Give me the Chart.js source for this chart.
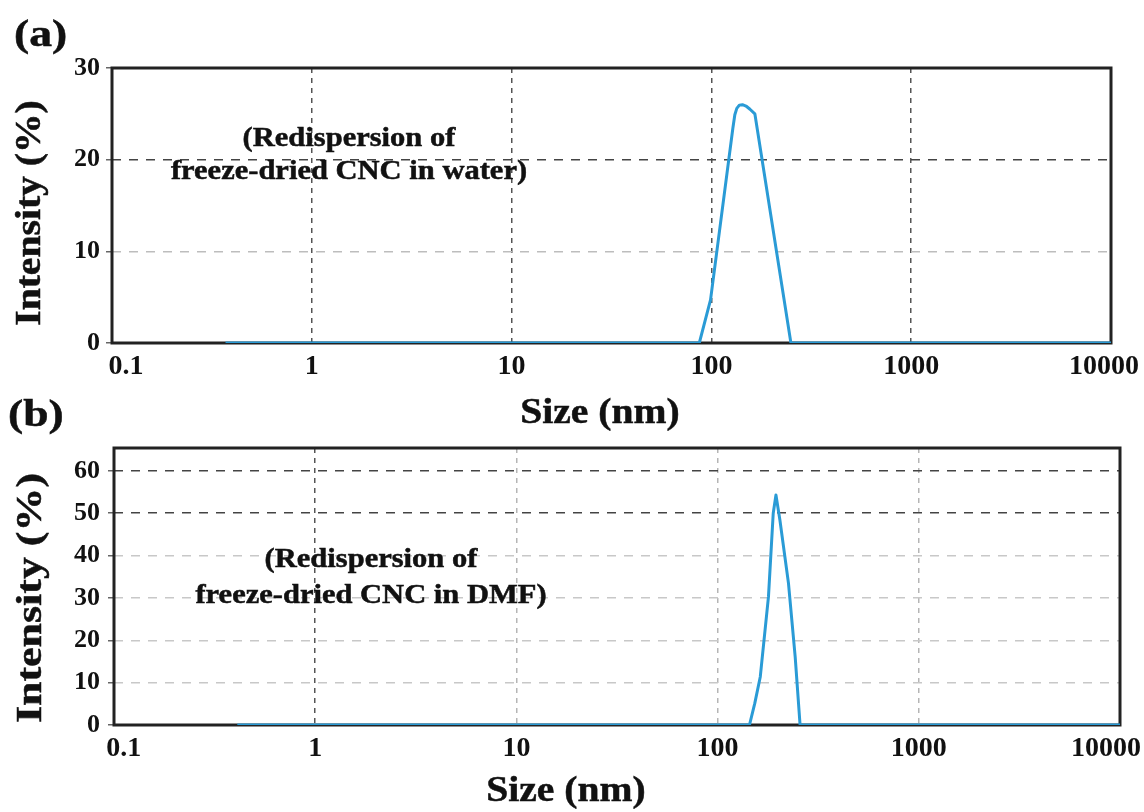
<!DOCTYPE html>
<html>
<head>
<meta charset="utf-8">
<script src="https://cdn.jsdelivr.net/npm/chart.js@4.4.1/dist/chart.umd.min.js"></script>
<style>
html,body{margin:0;padding:0;background:#fff;width:1144px;height:812px;overflow:hidden;}
.wrap{position:absolute;left:0;width:1144px;}
.txt{position:absolute;font-family:'Liberation Serif','Times New Roman',serif;font-weight:bold;color:#111;text-align:center;white-space:nowrap;-webkit-text-stroke:0.5px #111;}
</style>
</head>
<body>
<div class="wrap" style="top:0;height:430px"><canvas id="ca"></canvas></div>
<div class="wrap" style="top:430px;height:382px"><canvas id="cb"></canvas></div>

<div class="txt" style="left:14px;top:14px;font-size:38px;line-height:38px;text-align:left;transform:scaleX(1.2);transform-origin:left center">(a)</div>
<div class="txt" style="left:8px;top:394px;font-size:38px;line-height:38px;text-align:left;transform:scaleX(1.2);transform-origin:left center">(b)</div>

<div class="txt" style="left:149px;width:400px;top:120px;font-size:28px;line-height:33px;transform:scaleX(1.09)">(Redispersion of<br>freeze-dried CNC in water)</div>
<div class="txt" style="left:171px;width:400px;top:540px;font-size:28px;line-height:36px;transform:scaleX(1.09)">(Redispersion of<br>freeze-dried CNC in DMF)</div>

<div class="txt" style="left:450px;width:300px;top:392px;height:38px;font-size:36px;line-height:38px;transform:scaleX(1.1)">Size (nm)</div>
<div class="txt" style="left:416px;width:300px;top:770px;height:38px;font-size:36px;line-height:38px;transform:scaleX(1.1)">Size (nm)</div>

<div class="txt" style="left:-122px;width:300px;top:194px;height:38px;font-size:36px;line-height:38px;transform:rotate(-90deg) scaleX(1.1)">Intensity (%)</div>
<div class="txt" style="left:-121px;width:300px;top:579px;height:38px;font-size:36px;line-height:38px;transform:rotate(-90deg) scaleX(1.22)">Intensity (%)</div>

<script>
// ---- data ----
const xTickValues = [0.1, 1, 10, 100, 1000, 10000];
const xTickLabels = ['0.1', '1', '10', '100', '1000', '10000'];
const yTicksA = [0, 10, 20, 30];
const yTicksB = [0, 10, 20, 30, 40, 50, 60];

// (a) freeze-dried CNC redispersed in water
const sizeA = [0.37, 87, 99, 128, 131, 134, 138, 143, 149, 156, 165, 250, 10000];
const intensityA = [0, 0, 4.7, 23.4, 24.9, 25.6, 25.95, 26.0, 25.85, 25.5, 25.0, 0, 0];

// (b) freeze-dried CNC redispersed in DMF
const sizeB = [0.41, 144, 153, 163, 179, 189, 195, 204, 225, 243, 257, 10000];
const intensityB = [0, 0, 5.1, 11.4, 30.3, 50.0, 54.3, 48.4, 33.5, 16.1, 0, 0];

// ---- styling ----
Chart.defaults.font.family = "'Liberation Serif', 'Times New Roman', serif";
const BLUE = '#2a9bd6';
const NONE = 'rgba(0,0,0,0)';

const frame = {
  id: 'frame',
  beforeDatasetsDraw(chart) {
    const {ctx, chartArea: a} = chart;
    ctx.save();
    ctx.strokeStyle = '#222';
    ctx.lineWidth = 3;
    ctx.setLineDash([]);
    ctx.strokeRect(a.left, a.top, a.right - a.left, a.bottom - a.top);
    ctx.restore();
  }
};

function makeChart(id, xs, ys, yMax, yTicks, cfg) {
  return new Chart(document.getElementById(id), {
    type: 'line',
    data: {
      datasets: [{
        data: xs.map((x, i) => ({x: x, y: ys[i]})),
        borderColor: BLUE,
        borderWidth: 3,
        pointRadius: 0,
        fill: false,
        tension: 0,
        borderJoinStyle: 'round'
      }]
    },
    options: {
      animation: false,
      responsive: true,
      maintainAspectRatio: false,
      layout: {padding: {top: cfg.padTop, right: cfg.padRight, left: 0, bottom: 0}},
      plugins: {legend: {display: false}, tooltip: {enabled: false}},
      scales: {
        x: {
          type: 'logarithmic',
          min: 0.1,
          max: 10000,
          afterBuildTicks: s => { s.ticks = xTickValues.map(v => ({value: v})); },
          afterFit: s => { s.height = cfg.xH; s.paddingLeft = 0; s.paddingRight = 0; },
          ticks: {
            autoSkip: false,
            maxRotation: 0,
            padding: 7,
            color: '#111',
            font: {size: 28, weight: 'bold'},
            callback: (v, i, arr) => i === 0 ? cfg.firstPad + xTickLabels[i]
              : (i === arr.length - 1 ? xTickLabels[i] + cfg.lastPad : xTickLabels[i])
          },
          grid: {
            drawTicks: false,
            lineWidth: 1.5,
            color: c => (c.tick && cfg.xGrid[c.tick.value]) || NONE
          },
          border: {display: false, dash: [5, 5]}
        },
        y: {
          min: 0,
          max: yMax,
          afterBuildTicks: s => { s.ticks = yTicks.map(v => ({value: v})); },
          afterFit: s => { s.width = cfg.yW; s.paddingTop = 0; s.paddingBottom = 0; },
          ticks: {
            padding: cfg.yPad,
            color: '#111',
            font: {size: 26, weight: 'bold'},
            callback: v => String(v)
          },
          grid: {
            drawTicks: true,
            tickLength: 6,
            tickColor: '#666',
            tickWidth: 1.5,
            lineWidth: 1.5,
            color: c => (c.tick && cfg.yGrid[c.tick.value]) || NONE
          },
          border: {display: false, dash: [9, 8]}
        }
      }
    },
    plugins: [frame]
  });
}

makeChart('ca', sizeA, intensityA, 30, yTicksA, {
  padTop: 68, padRight: 33, xH: 87, yW: 112, yPad: 6,
  firstPad: '\u2002\u2002', lastPad: '\u2002',
  xGrid: {1: '#555', 10: '#555', 100: '#555', 1000: '#555'},
  yGrid: {10: '#bdbdbd', 20: '#444'}
});

makeChart('cb', sizeB, intensityB, 65.4, yTicksB, {
  padTop: 18, padRight: 24, xH: 87, yW: 114, yPad: 8,
  firstPad: '\u2002\u2009', lastPad: '\u2002\u2002',
  xGrid: {1: '#555', 10: '#b5b5b5', 100: '#b5b5b5', 1000: '#b5b5b5'},
  yGrid: {10: '#c8c8c8', 20: '#c8c8c8', 30: '#c8c8c8', 40: '#c8c8c8', 50: '#444', 60: '#444'}
});
</script>
</body>
</html>
